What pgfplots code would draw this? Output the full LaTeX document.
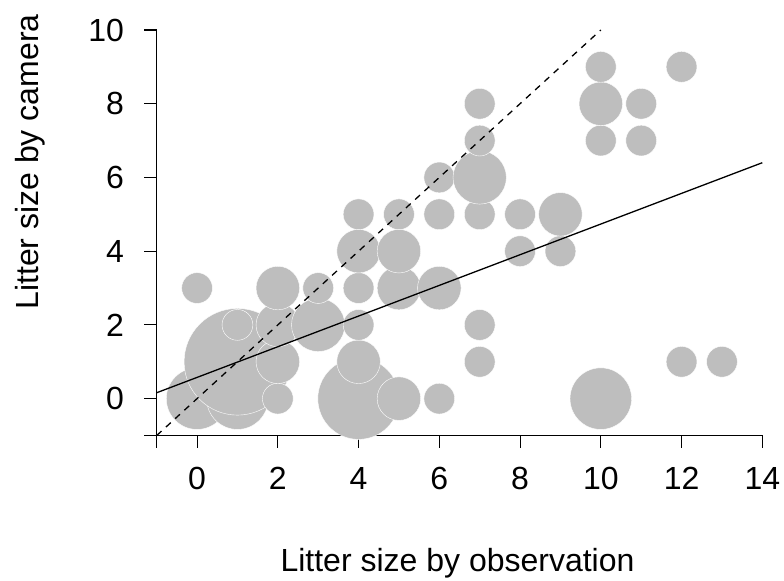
\documentclass[border=0pt]{standalone}
\usepackage{pgfplots}
\pgfplotsset{compat=1.18}
\usepackage{pgfplotstable}
\usepackage{fontspec}
\setmainfont{Liberation Sans}
\definecolor{bubble}{HTML}{BEBEBE}

% litter counts: observed (x), camera (y), number of cases (n)
\pgfplotstableread{
x y n
0 0 4
0 3 1
1 0 4
1 1 12
1 2 1
2 0 1
2 1 2
2 2 2
2 3 2
3 2 3
3 3 1
4 0 7
4 1 2
4 2 1
4 3 1
4 4 2
4 5 1
5 0 2
5 3 2
5 4 2
5 5 1
6 0 1
6 3 2
6 5 1
6 6 1
7 1 1
7 2 1
7 5 1
7 6 3
7 7 1
7 8 1
8 4 1
8 5 1
9 4 1
9 5 2
10 0 4
10 7 1
10 8 2
10 9 1
11 7 1
11 8 1
12 1 1
12 9 1
13 1 1
}\litter

\newcommand{\lab}{\fontsize{32bp}{38bp}\selectfont}

\begin{document}
\begin{tikzpicture}
\useasboundingbox (0,0) rectangle (784bp,581bp);
\begin{axis}[
  at={(156.7bp,145.5bp)}, anchor=south west,
  scale only axis, width=605.6bp, height=405.5bp,
  xmin=-1, xmax=14, ymin=-1, ymax=10,
  clip=false, clip marker paths=true,
  axis x line*=bottom, axis y line*=left,
  axis line style={line width=1.1bp, black},
  tick align=outside, major tick length=12.5bp,
  tick style={line width=1.1bp, black},
  xtick={-1,0,2,4,6,8,10,12,14},
  xticklabels={{},0,2,4,6,8,10,12,14},
  ytick={-1,0,2,4,6,8,10},
  yticklabels={{},0,2,4,6,8,10},
  ticklabel style={font=\lab},
  /pgf/number format/assume math mode=true,
  xticklabel style={anchor=north, inner sep=0pt, yshift=-19bp},
  yticklabel style={anchor=east, inner sep=0pt, xshift=-20bp},
]
% bubble area proportional to the number of cases
\addplot[scatter, only marks, mark=*,
  scatter/use mapped color={draw=white, fill=bubble},
  visualization depends on={1.00375*15.4*sqrt(\thisrow{n}) \as \rad},
  scatter/@pre marker code/.append style={/tikz/mark size=\rad, /tikz/line width=1.5bp}]
  table[x=x, y=y] {\litter};
% fitted regression and the 1:1 line, drawn over the bubbles
\addplot[black, line width=1.3bp] coordinates {(-1,0.16) (14,6.40)};
\addplot[black, line width=1.3bp, dash pattern=on 6.5bp off 6bp] coordinates {(-1,-1) (10,10)};
\end{axis}
\node[anchor=base, font=\lab] at (457.5bp,9.3bp) {Litter size by observation};
\node[anchor=base, rotate=90, font=\lab] at (38bp,419bp) {Litter size by camera};
\end{tikzpicture}
\end{document}
